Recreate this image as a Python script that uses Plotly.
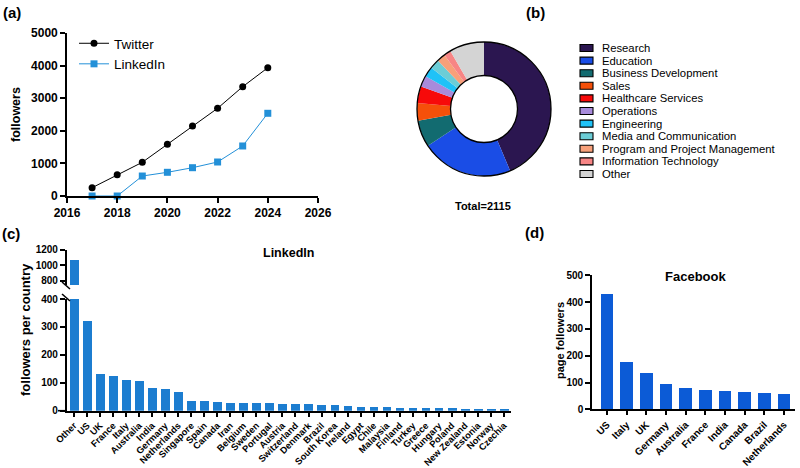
import plotly.graph_objects as go

# ---------------- data ----------------
years = [2017, 2018, 2019, 2020, 2021, 2022, 2023, 2024]
twitter_followers = [255, 653, 1034, 1586, 2147, 2690, 3353, 3935]
linkedin_followers = [0, 0, 613, 727, 868, 1043, 1534, 2537]

roles = ["Research", "Education", "Business Development", "Sales", "Healthcare Services",
         "Operations", "Engineering", "Media and Communication",
         "Program and Project Management", "Information Technology", "Other"]
role_counts = [923, 468, 136, 89, 86, 56, 52, 49, 43, 36, 177]
role_colors = ["#2b1650", "#1a4de6", "#126b70", "#f5500a", "#f70a0a", "#a88bdb",
               "#1fc2f7", "#6ccdd6", "#f7a07a", "#f78585", "#d4d4d4"]

li_countries = ["Other", "US", "UK", "France", "Italy", "Australia", "India", "Germany",
                "Netherlands", "Singapore", "Spain", "Canada", "Iran", "Belgium", "Sweden",
                "Portugal", "Austria", "Switzerland", "Denmark", "Brazil", "South Korea",
                "Ireland", "Egypt", "Chile", "Malaysia", "Finland", "Turkey", "Greece",
                "Hungary", "Poland", "New Zealand", "Estonia", "Norway", "Czechia"]
li_counts = [1065, 321, 130, 125, 110, 108, 82, 79, 67, 35, 35, 32, 29, 28, 28, 28, 25,
             24, 23, 21, 19, 16, 14, 13, 13, 11, 8, 8, 8, 8, 7, 7, 6, 5]

fb_countries = ["US", "Italy", "UK", "Germany", "Australia", "France", "India", "Canada",
                "Brazil", "Netherlands"]
fb_counts = [429, 175, 134, 92, 77, 71, 67, 65, 60, 56]

# ---------------- helpers ----------------
W, H = 800, 468
FONT = "Liberation Sans"


def px(x):
    return x / W


def py(y):
    return 1 - y / H


axis_style = dict(showline=True, linecolor="black", linewidth=1.6, ticks="outside",
                  tickwidth=1.6, tickcolor="black", showgrid=False,
                  zeroline=False, automargin=False)

fig = go.Figure()

# ---------------- (a) line chart ----------------
fig.add_trace(go.Scatter(x=years, y=twitter_followers, mode="lines+markers", name="Twitter",
                         line=dict(color="black", width=1),
                         marker=dict(symbol="circle", size=7, color="black"),
                         cliponaxis=False, xaxis="x", yaxis="y"))
fig.add_trace(go.Scatter(x=years, y=linkedin_followers, mode="lines+markers", name="LinkedIn",
                         line=dict(color="#2390d8", width=1),
                         marker=dict(symbol="square", size=7, color="#2390d8"),
                         cliponaxis=False, xaxis="x", yaxis="y"))

# ---------------- (b) donut ----------------
cx, cy, R = 484, 109, 67
fig.add_trace(go.Pie(values=role_counts, labels=roles, hole=0.5, sort=False,
                     direction="clockwise", rotation=0, textinfo="none",
                     marker=dict(colors=role_colors, line=dict(width=0)),
                     domain=dict(x=[px(cx - R), px(cx + R)], y=[py(cy + R), py(cy - R)]),
                     showlegend=False))

# ---------------- (c) LinkedIn countries (broken axis) ----------------
li_idx = list(range(len(li_countries)))
fig.add_trace(go.Bar(x=li_idx, y=li_counts, marker=dict(color="#1c7dd0", line=dict(width=0)),
                     width=0.67, showlegend=False, xaxis="x2", yaxis="y2"))
fig.add_trace(go.Bar(x=li_idx, y=li_counts, marker=dict(color="#1c7dd0", line=dict(width=0)),
                     width=0.67, showlegend=False, xaxis="x2", yaxis="y3"))

# ---------------- (d) Facebook countries ----------------
fb_idx = list(range(len(fb_countries)))
fig.add_trace(go.Bar(x=fb_idx, y=fb_counts, marker=dict(color="#0c5bd6", line=dict(width=0)),
                     width=0.65, showlegend=False, xaxis="x3", yaxis="y4"))

tick_b12 = dict(family=FONT, size=12, color="black", weight="bold")
tick_b10 = dict(family=FONT, size=10, color="black", weight="bold")

fig.update_layout(
    width=W, height=H, margin=dict(l=0, r=0, t=0, b=0, autoexpand=False),
    paper_bgcolor="white", plot_bgcolor="white",
    font=dict(family=FONT, color="black"),
    bargap=0,
    xaxis=dict(domain=[px(67), px(318)], range=[2016, 2026], tickmode="linear", tick0=2016,
               dtick=2, anchor="y", tickfont=tick_b12, ticklen=5, **axis_style),
    yaxis=dict(domain=[py(196), py(33)], range=[0, 5000], tickmode="linear", dtick=1000,
               anchor="x", tickfont=tick_b12, ticklen=5, **axis_style),
    xaxis2=dict(domain=[px(66.7), px(511)], range=[-0.56, 33.54], tickmode="array",
                tickvals=li_idx, ticktext=li_countries, tickangle=-45, anchor="y2",
                tickfont=dict(family=FONT, size=9.3, color="black", weight="bold"),
                ticklen=4, **axis_style),
    yaxis2=dict(domain=[py(410.7), py(299)], range=[0, 400], tickmode="linear", dtick=100,
                anchor="x2", tickfont=tick_b10, ticklen=5, **axis_style),
    yaxis3=dict(domain=[py(285), py(249.7)], range=[745, 1200], tickmode="array",
                tickvals=[800, 1000, 1200], anchor="x2", tickfont=tick_b10, ticklen=5,
                **axis_style),
    xaxis3=dict(domain=[px(592), px(795)], range=[-0.76, 9.56], tickmode="array",
                tickvals=fb_idx, ticktext=fb_countries, tickangle=-45, anchor="y4",
                tickfont=dict(family=FONT, size=10, color="black", weight="bold"),
                ticklen=4, **axis_style),
    yaxis4=dict(domain=[py(409.3), py(275.3)], range=[0, 500], tickmode="linear", dtick=100,
                anchor="x3", tickfont=tick_b10, ticklen=5, **axis_style),
    legend=dict(x=px(74), y=py(28), xanchor="left", yanchor="top",
                font=dict(family=FONT, size=13.5, color="black"),
                bgcolor="rgba(0,0,0,0)", itemwidth=30, tracegroupgap=2),
)

shapes = []
# donut outlines
for r in (R, R / 2):
    shapes.append(dict(type="circle", xref="paper", yref="paper", xsizemode="pixel",
                       ysizemode="pixel", xanchor=px(cx), yanchor=py(cy),
                       x0=-r, x1=r, y0=-r, y1=r, line=dict(color="black", width=1.3)))
# donut legend patches
leg_y0, leg_dy = 48, 12.6
for i, (name, col) in enumerate(zip(roles, role_colors)):
    yc = leg_y0 + i * leg_dy
    shapes.append(dict(type="rect", xref="paper", yref="paper",
                       x0=px(580), x1=px(593), y0=py(yc + 3.5), y1=py(yc - 3.5),
                       fillcolor=col, line=dict(color="black", width=1.1)))
# axis extensions left of the y-axes
for (x0, x1, yy) in [(62, 67, 196), (58, 66.7, 410.7)]:
    shapes.append(dict(type="line", xref="paper", yref="paper", x0=px(x0), x1=px(x1),
                       y0=py(yy), y1=py(yy), line=dict(color="black", width=1.6)))
# break marks on (c)
for (x0, y0, x1, y1) in [(62, 282, 70, 289), (62, 294, 70, 301)]:
    shapes.append(dict(type="line", xref="paper", yref="paper", x0=px(x0), x1=px(x1),
                       y0=py(y0), y1=py(y1), line=dict(color="black", width=1.6)))

annotations = []


def ann(text, x, y, size, bold=True, angle=0, xanchor="center"):
    annotations.append(dict(text=text, x=px(x), y=py(y), xref="paper", yref="paper",
                            showarrow=False, textangle=angle, xanchor=xanchor,
                            yanchor="middle",
                            font=dict(family=FONT, size=size, color="black",
                                      weight="bold" if bold else "normal")))


ann("(a)", 1, 12, 15, xanchor="left")
ann("(b)", 524, 12, 15, xanchor="left")
ann("(c)", 0, 233, 15, xanchor="left")
ann("(d)", 523, 232, 15, xanchor="left")
ann("followers", 16, 115, 12.5, angle=-90)
ann("followers per country", 25, 330, 13, angle=-90)
ann("page followers", 560, 341, 11, angle=-90)
ann("LinkedIn", 288, 253, 12.5)
ann("Facebook", 695, 276, 13)
ann(f"Total={sum(role_counts)}", 483, 206, 11)
for i, name in enumerate(roles):
    ann(name, 600, leg_y0 + i * leg_dy, 11.3, bold=False, xanchor="left")

fig.update_layout(shapes=shapes, annotations=annotations)
fig.write_html("out.html", config={"displayModeBar": False},
               post_script="document.body.style.margin='0';"
                           "document.body.style.overflow='hidden';")
